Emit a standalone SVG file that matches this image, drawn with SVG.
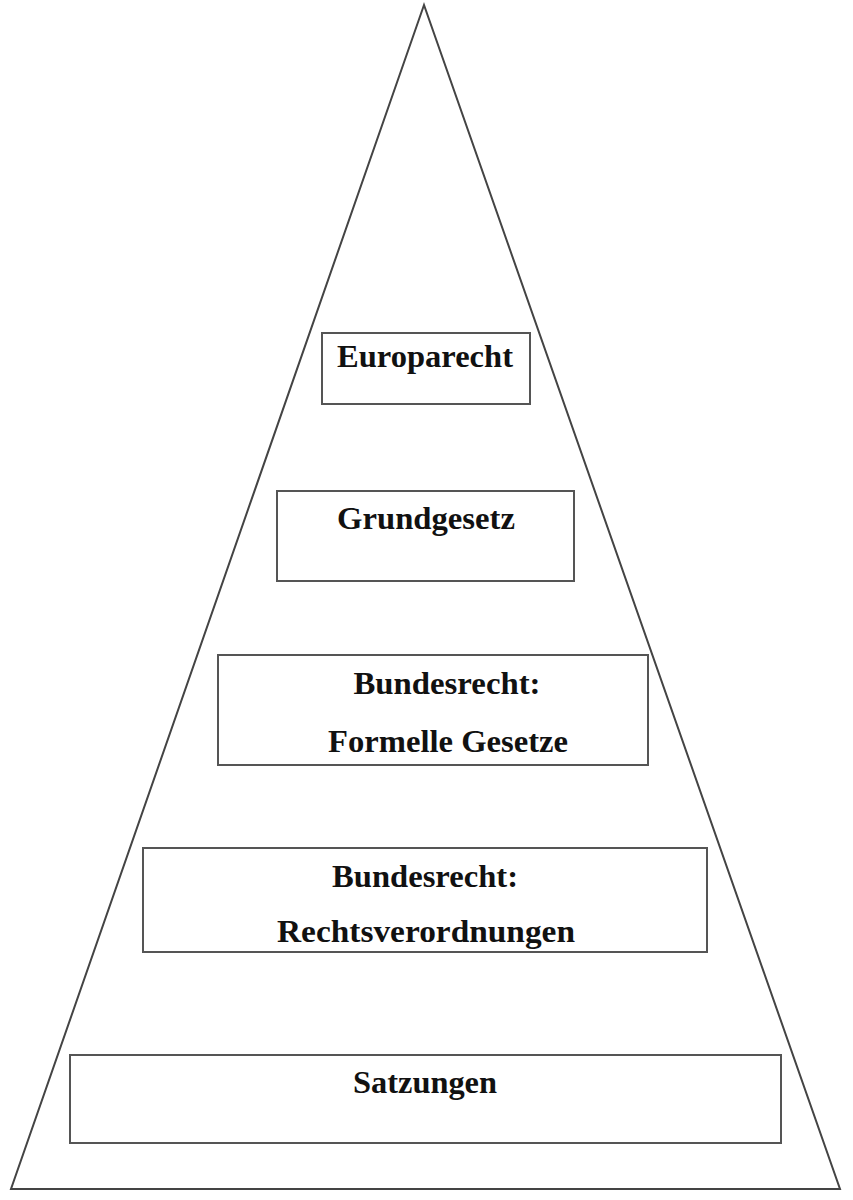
<svg xmlns="http://www.w3.org/2000/svg" width="853" height="1200" viewBox="0 0 853 1200">
<style>
.box{fill:#fff;stroke:#555;stroke-width:2}
.lbl{font-family:"Liberation Serif","Times New Roman",serif;font-weight:bold;font-size:32px;fill:#111;text-anchor:middle}
</style>
<rect width="853" height="1200" fill="#fff"/>
<g id="pyramid">
<polygon points="424,5 11,1189 840,1189" fill="#fff" stroke="#444" stroke-width="2"/>
</g>
<g id="connectors"></g>
<g id="europarecht">
<rect class="box" x="322" y="333" width="208" height="71"/>
<text class="lbl" x="425" y="367" textLength="176" lengthAdjust="spacingAndGlyphs">Europarecht</text>
</g>
<g id="grundgesetz">
<rect class="box" x="277" y="491" width="297" height="90"/>
<text class="lbl" x="426" y="529" textLength="178" lengthAdjust="spacingAndGlyphs">Grundgesetz</text>
</g>
<g id="formelle">
<rect class="box" x="218" y="655" width="430" height="110"/>
<text class="lbl" x="447" y="694" textLength="187" lengthAdjust="spacingAndGlyphs">Bundesrecht:</text>
<text class="lbl" x="448" y="752" textLength="240" lengthAdjust="spacingAndGlyphs">Formelle Gesetze</text>
</g>
<g id="verordnungen">
<rect class="box" x="143" y="848" width="564" height="104"/>
<text class="lbl" x="425" y="887" textLength="186" lengthAdjust="spacingAndGlyphs">Bundesrecht:</text>
<text class="lbl" x="426" y="942" textLength="298" lengthAdjust="spacingAndGlyphs">Rechtsverordnungen</text>
</g>
<g id="satzungen">
<rect class="box" x="70" y="1055" width="711" height="88"/>
<text class="lbl" x="425" y="1093" textLength="144" lengthAdjust="spacingAndGlyphs">Satzungen</text>
</g>
</svg>
